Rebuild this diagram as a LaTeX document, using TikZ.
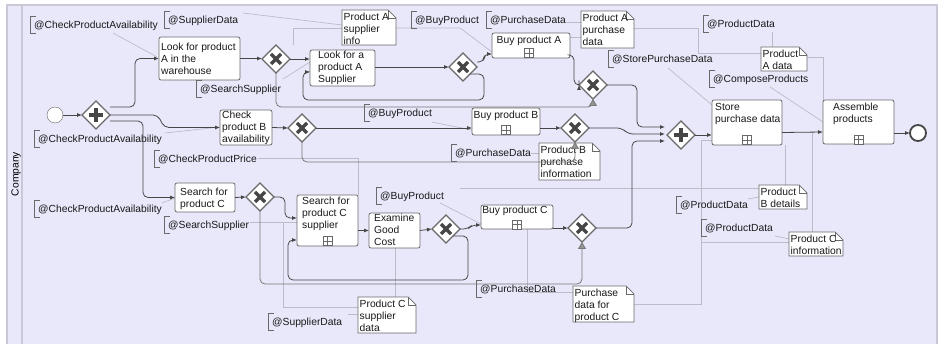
\documentclass[tikz,border=0pt]{standalone}
\usepackage{fontspec}
\setmainfont{Liberation Sans}
\usetikzlibrary{shapes.geometric,arrows.meta,calc}
\definecolor{poolbg}{RGB}{232,232,250}
\definecolor{poolln}{RGB}{200,200,214}
\definecolor{flowc}{RGB}{70,70,70}
\definecolor{assoc}{RGB}{188,188,200}
\definecolor{boxln}{RGB}{105,105,105}
\definecolor{dflc}{RGB}{120,120,120}
\newcommand{\tl}[1]{\begin{tabular}[t]{@{}l@{}}#1\end{tabular}}
\newcommand{\gwX}[1]{\draw[gwsym] ($(#1)+(-5,-5)$) -- ($(#1)+(5,5)$) ($(#1)+(-5,5)$) -- ($(#1)+(5,-5)$);}
\newcommand{\gwP}[1]{\draw[gwsym] ($(#1)+(-7,0)$) -- ($(#1)+(7,0)$) ($(#1)+(0,-7)$) -- ($(#1)+(0,7)$);}
\newcommand{\subm}[2]{\draw[boxln, line width=0.7pt, fill=white] (#1-4.5,#2-4.5) rectangle (#1+4.5,#2+4.5) (#1-4.5,#2) -- (#1+4.5,#2) (#1,#2-4.5) -- (#1,#2+4.5);}
\newcommand{\annot}[4]{\node[txt] (#1) at (#2,#3+3.5) {#4};
  \draw[boxln, line width=0.7pt] (#2+2,#3-8.5) -- (#2-4,#3-8.5) -- (#2-4,#3+8.5) -- (#2+2,#3+8.5);}
\newcommand{\dobj}[6]{\node[anchor=north west, inner sep=0pt, outer sep=0pt, minimum width=#4pt, minimum height=#5pt] (#1) at (#2,#3) {};
  \draw[boxln, line width=0.7pt, fill=white] (#1.north west) -- ([xshift=-8pt]#1.north east) -- ([yshift=-8pt]#1.north east) -- (#1.south east) -- (#1.south west) -- cycle;
  \draw[boxln, line width=0.7pt] ([xshift=-8pt]#1.north east) -- ([xshift=-8pt,yshift=-8pt]#1.north east) -- ([yshift=-8pt]#1.north east);
  \node[txt] (#1txt) at (#2+1.5,#3+10.5) {\tl{#6}};}
\tikzset{
 txt/.style={anchor=base west, inner sep=0pt, font=\fontsize{10.3}{12}\selectfont, text=black!90},
 ctxt/.style={anchor=base, inner sep=0pt, font=\fontsize{10.3}{12}\selectfont, text=black!90},
 flow/.style={draw=flowc, line width=0.8pt, rounded corners=5pt, -{Latex[length=5pt,width=4pt]}},
 dflow/.style={draw=dflc, line width=0.8pt, rounded corners=5pt, -{Triangle[length=7pt,width=8pt,fill=dflc!80]}},
 assocl/.style={draw=assoc, line width=0.7pt},
 gw/.style={diamond, draw=boxln, line width=1.2pt, fill=white, minimum width=28pt, minimum height=28pt, inner sep=0pt, outer sep=0pt},
 gwsym/.style={draw=flowc, line width=3.3pt},
 taskbox/.style={draw=boxln, fill=white, line width=0.8pt, rounded corners=2pt, anchor=north west, inner sep=0pt, outer sep=0pt},
 evt/.style={circle, draw=boxln, fill=white, minimum size=16pt, inner sep=0pt, outer sep=0pt},
}
\begin{document}
\begin{tikzpicture}[x=1pt,y=-1pt]
\useasboundingbox (0,0) rectangle (940,344);
\fill[white] (0,0) rectangle (940,344);
\draw[draw=poolln, line width=1.5pt, fill=poolbg] (7,5) rectangle (937,350);
\draw[poolln, line width=1.5pt] (22,5) -- (22,350);
\node[rotate=90, font=\fontsize{10.3}{12}\selectfont] (lane) at (16,174) {Company};

% ---- associations (faint lines)
\draw[assocl] (113,33) -- (157,57);
\draw[assocl] (243,13) -- (342,25);
\draw[assocl] (293,45) -- (293,28) -- (342,28);
\draw[assocl] (396,28) -- (460,28) -- (492,52);
\draw[assocl] (283,79) -- (310,62);
\draw[assocl] (165,133) -- (220,127);
\draw[assocl] (772,32) -- (772,47);
\draw[assocl] (807,57) -- (823,57) -- (823,100);
\draw[assocl] (770,87) -- (823,122);
\draw[assocl] (668,68) -- (712,105);
\draw[assocl] (570,37) -- (581,37);
\draw[assocl] (566,22) -- (581,22);
\draw[assocl] (634,28) -- (698,28) -- (698,53) -- (761,53);
\draw[assocl] (432,122) -- (472,130);
\draw[assocl] (440,203) -- (481,224);
\draw[assocl] (531,153) -- (539,153);
\draw[assocl] (348,314) -- (358,314);
\draw[assocl] (258,158) -- (358,158) -- (358,195);
\draw[assocl] (395,248) -- (395,297);
\draw[assocl] (250,222) -- (297,222);
\draw[assocl] (283,222) -- (283,307) -- (358,307);
\draw[assocl] (527,229) -- (527,292) -- (573,292);
\draw[assocl] (460,188) -- (759,188);
\draw[assocl] (785,145) -- (785,185);
\draw[assocl] (748,199) -- (759,197);
\draw[assocl] (812,133) -- (812,232);
\draw[assocl] (634,304) -- (701,304) -- (701,140) -- (712,140);
\draw[assocl] (701,242) -- (789,242);
\draw[assocl] (775,236) -- (789,239);
\draw[assocl] (162,203) -- (175,198);

% ---- data objects
\dobj{d1}{342}{10}{54}{35}{Product A\\supplier\\info}
\dobj{d2}{581}{11}{53}{37}{Product A\\purchase\\data}
\dobj{d3}{761}{47}{46}{24}{Product\\A data}
\dobj{d4}{539}{143}{61}{37}{Product B\\purchase\\information}
\dobj{d5}{759}{185}{48}{24}{Product\\B details}
\dobj{d6}{789}{232}{54}{24}{Product C\\information}
\dobj{d7}{358}{297}{58}{36}{Product C\\supplier\\data}
\dobj{d8}{573}{286}{61}{36}{Purchase\\data for\\product C}

% ---- annotations
\annot{a1}{34}{25}{@CheckProductAvailability}
\annot{a2}{168}{20}{@SupplierData}
\annot{a3}{200}{89}{@SearchSupplier}
\annot{a4}{415}{20}{@BuyProduct}
\annot{a5}{490}{20}{@PurchaseData}
\annot{a6}{612}{59}{@StorePurchaseData}
\annot{a7}{707}{24}{@ProductData}
\annot{a8}{713}{79}{@ComposeProducts}
\annot{a9}{38}{139}{@CheckProductAvailability}
\annot{a10}{158}{159}{@CheckProductPrice}
\annot{a11}{368}{113}{@BuyProduct}
\annot{a12}{455}{153}{@PurchaseData}
\annot{a13}{38}{209}{@CheckProductAvailability}
\annot{a14}{168}{225}{@SearchSupplier}
\annot{a15}{380}{196}{@BuyProduct}
\annot{a16}{680}{205}{@ProductData}
\annot{a17}{705}{228}{@ProductData}
\annot{a18}{480}{289}{@PurchaseData}
\annot{a19}{272}{322}{@SupplierData}

% ---- tasks
\node[taskbox, minimum width=81pt, minimum height=43pt] (t1) at (159,37) {};
\node[taskbox, minimum width=65pt, minimum height=36pt] (t2) at (310,50) {};
\node[taskbox, minimum width=78pt, minimum height=25pt] (t3) at (492,33) {};
\node[taskbox, minimum width=52pt, minimum height=35pt] (t4) at (220,110) {};
\node[taskbox, minimum width=68pt, minimum height=27pt] (t5) at (472,108) {};
\node[taskbox, minimum width=60pt, minimum height=29pt] (t6) at (175,183) {};
\node[taskbox, minimum width=61pt, minimum height=51pt] (t7) at (297,195) {};
\node[taskbox, minimum width=51pt, minimum height=35pt] (t8) at (369,213) {};
\node[taskbox, minimum width=72pt, minimum height=24pt] (t9) at (481,205) {};
\node[taskbox, minimum width=70pt, minimum height=45pt] (t10) at (712,100) {};
\node[taskbox, minimum width=71pt, minimum height=44pt] (t11) at (823,100) {};

% ---- events and gateways
\node[evt] (s) at (55,115) {};
\node[evt, draw=flowc, line width=1.8pt] (e) at (918,133) {};
\node[gw] (g1) at (96,115) {};
\node[gw] (g2) at (276,59) {};
\node[gw] (g3) at (463,67) {};
\node[gw] (g4) at (593,85) {};
\node[gw] (g5) at (302,128) {};
\node[gw] (g6) at (575,128) {};
\node[gw] (g7) at (260,197) {};
\node[gw] (g8) at (446,229) {};
\node[gw] (g9) at (582,228) {};
\node[gw] (g10) at (681,135) {};

% ---- sequence flows
\draw[flow] (s.east) -- (g1.west);
\draw[flow] ($(g1.east)+(0,-8)$) -- (135,107) -- (135,58.5) -- (t1.west);
\draw[flow] (g1.east) -- (158,115) -- (164,127.5) -- (t4.west);
\draw[flow] ($(g1.east)+(0,6)$) -- (143,121) -- (143,197.5) -- (t6.west);
\draw[flow] (t1.east) -- (t1.east -| g2.west);
\draw[flow] (g2.east) -- (g2.east -| t2.west);
\draw[flow] (g3.west -| t2.east) -- (g3.west);
\draw[flow] ($(g3.east)+(0,-5)$) -- (484,62) -- (484,54) -- ($(t3.south west)+(0,-4)$);
\draw[flow] (g3.south east) -- (484,74) -- (484,100) -- (303,100) -- (303,72) -- ($(t2.west)+(0,4)$);
\draw[flow] ($(t3.south east)+(0,-3)$) -- (574,55) -- (574,85) -- (g4.west);
\draw[dflow] (g2.south) -- (276,107) -- (593,107) -- (g4.south);
\draw[flow] (g4.east) -- (637,85) -- (637,127) -- ($(g10.west)+(-2,-8)$);
\draw[flow] (g6.east) -- (622,128) -- (628,134) -- ($(g10.west)+(-2,-1)$);
\draw[flow] (g9.east) -- (632,228) -- (632,141) -- ($(g10.west)+(-2,6)$);
\draw[flow] (t4.east) -- (g5.west);
\draw[flow] (g5.east) -- (g5.east -| t5.west);
\draw[flow] (g6.west -| t5.east) -- (g6.west);
\draw[dflow] (g5.south) -- (302,162) -- (575,162) -- (g6.south);
\draw[flow] (t6.east) -- (g7.west);
\draw[flow] (g7.east) -- (285,197) -- (285,218) -- (297,218) coordinate (t7in1);
\draw[flow] (t8.west -| t7.east) -- (t8.west);
\draw[flow] (t8.east) -- (g8.west);
\draw[flow] (g8.east) -- (468,229) -- (472,225) -- (t9.west |- 0,225);
\draw[flow] (g8.south east) -- (468,236) -- (468,280) -- (288,280) -- (288,240) -- (t7.west |- 0,240);
\draw[dflow] (g7.south) -- (260,284) -- (582,284) -- (g9.south);
\draw[flow] (g9.west -| t9.east) -- (g9.west);
\draw[flow] (g10.east) -- (g10.east -| t10.west);
\draw[flow] ($(t10.east)+(0,10)$) -- ($(t11.west)+(0,10)$);
\draw[flow] ($(t11.east)+(0,11)$) -- (e.west);

% ---- gateway symbols
\gwP{g1} \gwP{g10}
\gwX{g2} \gwX{g3} \gwX{g4} \gwX{g5} \gwX{g6} \gwX{g7} \gwX{g8} \gwX{g9}

% ---- subprocess markers
\subm{529}{53} \subm{506}{130} \subm{327.5}{241} \subm{517}{224.5} \subm{747}{140} \subm{858.5}{139.5}

% ---- task texts
\node[txt] (t1txt) at (161,50.5) {\tl{Look for product\\A in the\\warehouse}};
\node[txt] (t2txt) at (318,58.5) {\tl{Look for a\\product A\\Supplier}};
\node[ctxt] (t3txt) at (529,43.5) {Buy product A};
\node[txt] (t4txt) at (222,118.5) {\tl{Check\\product B\\availability}};
\node[ctxt] (t5txt) at (506,118.5) {Buy product B};
\node[txt] (t6txt) at (180,195.5) {\tl{Search for\\product C}};
\node[txt] (t7txt) at (302,204.5) {\tl{Search for\\product C\\supplier}};
\node[txt] (t8txt) at (374,221.5) {\tl{Examine\\Good\\Cost}};
\node[ctxt] (t9txt) at (515,213.5) {Buy product C};
\node[txt] (t10txt) at (715,110.5) {\tl{Store\\purchase data}};
\node[txt] (t11txt) at (833,110.5) {\tl{Assemble\\products}};
\end{tikzpicture}
\end{document}
